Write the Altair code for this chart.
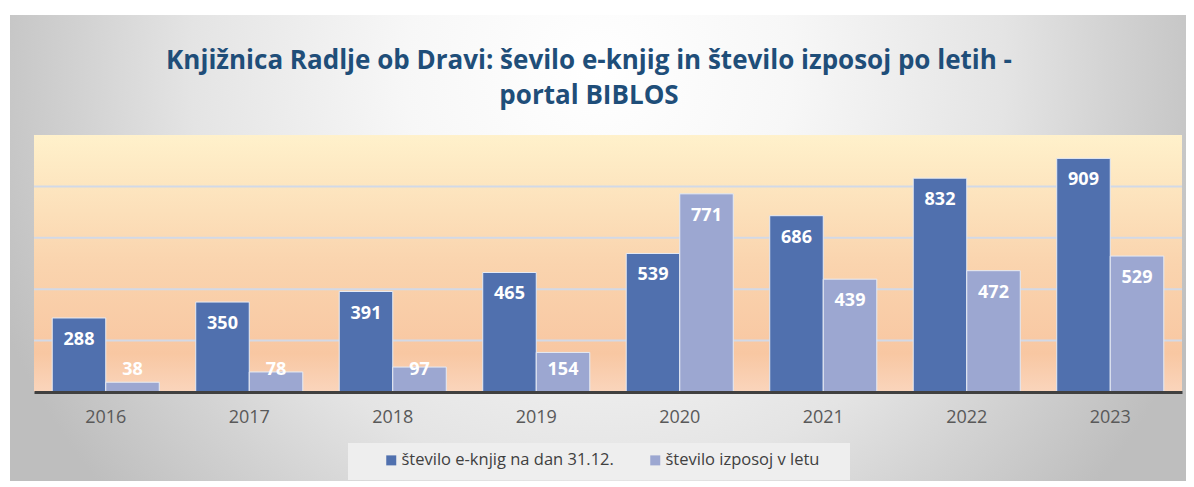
import altair as alt
import pandas as pd

years = ["2016", "2017", "2018", "2019", "2020", "2021", "2022", "2023"]
ebooks = [288, 350, 391, 465, 539, 686, 832, 909]
loans = [38, 78, 97, 154, 771, 439, 472, 529]
series = ["število e-knjig na dan 31.12.", "število izposoj v letu"]
colors = ["#5070AE", "#9CA7D1"]
grid_values = [200, 400, 600, 800]

rows = []
for i, y in enumerate(years):
    rows.append({"year": y, "series": series[0], "value": ebooks[i], "order": 0})
    rows.append({"year": y, "series": series[1], "value": loans[i], "order": 1})
df = pd.DataFrame(rows)

W, H = 1148, 257
FONT = "Open Sans"

outer_grad = {
    "gradient": "radial",
    "x1": 0.5, "y1": 0.35, "r1": 0,
    "x2": 0.5, "y2": 0.35, "r2": 0.55,
    "stops": [
        {"offset": 0, "color": "#ffffff"},
        {"offset": 0.3, "color": "#f7f7f7"},
        {"offset": 0.63, "color": "#e4e4e4"},
        {"offset": 0.8, "color": "#d2d2d2"},
        {"offset": 1, "color": "#bebebe"},
    ],
}
plot_grad = {
    "gradient": "linear",
    "x1": 0, "y1": 0, "x2": 0, "y2": 1,
    "stops": [
        {"offset": 0, "color": "#FFF1CB"},
        {"offset": 0.5, "color": "#FAD4AE"},
        {"offset": 0.85, "color": "#F8C7A2"},
        {"offset": 1, "color": "#FAD5BC"},
    ],
}

one = alt.Data(values=[{"k": 1}])

outer_bg = alt.Chart(one).mark_rect(color=outer_grad).encode(
    x=alt.value(-24), x2=alt.value(1152), y=alt.value(-120), y2=alt.value(346)
)
plot_bg = alt.Chart(one).mark_rect(color=plot_grad).encode(
    x=alt.value(0), x2=alt.value(W), y=alt.value(0), y2=alt.value(H)
)
legend_box = alt.Chart(one).mark_rect(color="#EEEEEE").encode(
    x=alt.value(314), x2=alt.value(816), y=alt.value(308), y2=alt.value(345)
)

grid = alt.Chart(pd.DataFrame({"g": grid_values})).mark_rule(
    color="#D2D9E7", strokeWidth=2
).encode(y=alt.Y("g:Q", axis=None, scale=alt.Scale(domain=[0, 1000], nice=False)))

xenc = alt.X(
    "year:N",
    sort=years,
    scale=alt.Scale(paddingInner=0.254, paddingOuter=0.127),
    axis=alt.Axis(
        title=None, ticks=False, labelFontSize=18, labelColor="#595959",
        labelFont=FONT, labelPadding=16, domainColor="#404040",
        domainWidth=3, labelAngle=0, zindex=1, grid=False,
    ),
)
xoff = alt.XOffset("series:N", sort=series, scale=alt.Scale(paddingInner=0, paddingOuter=0))

bars = alt.Chart(df).mark_bar(stroke="#E6EBF5", strokeWidth=1).encode(
    x=xenc,
    xOffset=xoff,
    y=alt.Y("value:Q", axis=None, scale=alt.Scale(domain=[0, 1000], nice=False)),
    color=alt.Color(
        "series:N",
        sort=series,
        scale=alt.Scale(domain=series, range=colors),
        legend=alt.Legend(
            title=None, orient="none", legendX=349, legendY=317,
            direction="horizontal", columns=2, symbolType="square",
            symbolSize=100, symbolStrokeWidth=0, labelFontSize=16.5,
            labelFont=FONT, labelColor="#404040", labelLimit=400,
            columnPadding=33, labelOffset=2, padding=0, zindex=1,
        ),
    ),
)

labels = alt.Chart(df).transform_calculate(
    ly="max(datum.value, 172)"
).mark_text(
    color="white", fontSize=18, fontWeight="bold", font=FONT,
    baseline="middle", dy=22,
).encode(
    x=xenc,
    xOffset=xoff,
    y=alt.Y("ly:Q", axis=None, scale=alt.Scale(domain=[0, 1000], nice=False)),
    text=alt.Text("value:Q"),
)

chart = alt.layer(outer_bg, plot_bg, legend_box, grid, bars, labels).properties(
    width=W,
    height=H,
    padding={"left": 2, "top": 7, "right": 0, "bottom": 0},
    title=alt.TitleParams(
        text=["Knjižnica Radlje ob Dravi: ševilo e-knjig in število izposoj po letih -", "portal BIBLOS"],
        font=FONT, fontSize=26, fontWeight="bold", color="#1F4E79",
        lineHeight=35, anchor="middle", offset=-94, dx=-19, zindex=1,
    ),
).configure_view(stroke=None).configure(background="white")

chart.save("out.html", embed_options={"renderer": "svg", "actions": False})
